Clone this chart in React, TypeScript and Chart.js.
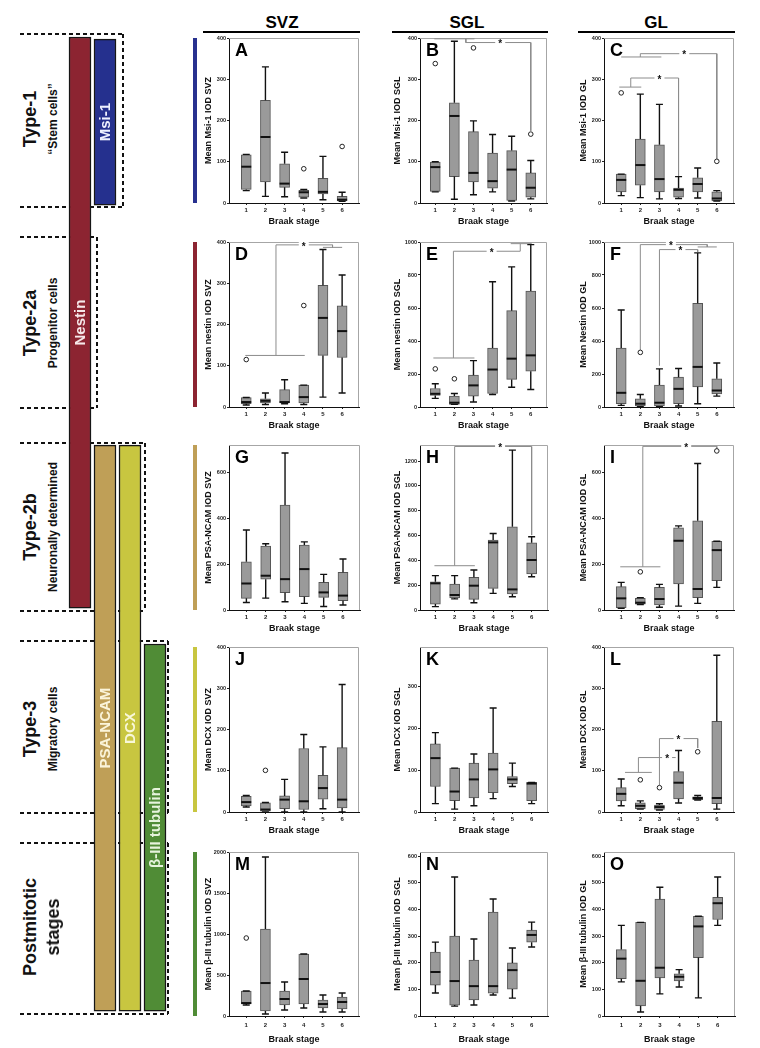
import React, { useEffect, useRef } from 'react';
import { Chart, registerables } from 'chart.js';

Chart.register(...registerables);

const FONT = '"Liberation Sans", Arial, Helvetica, sans-serif';

type Pt = [number, number];

const STAGES = [1, 2, 3, 4, 5, 6];
const X_TITLE = 'Braak stage';
const REGION_HEADERS = ['SVZ', 'SGL', 'GL'];

// ---- box statistics per Braak stage: [min, q1, median, q3, max] ----
const msi1SVZ = [[30, 33, 88, 117, 118], [16, 51, 160, 249, 330], [15, 38, 47, 95, 123], [12, 14, 26, 31, 33], [8, 22, 27, 60, 113], [4, 5, 8, 16, 26]];
const msi1SVZOut: Pt[] = [[4, 83], [6, 137]];

const msi1SGL = [[27, 28, 87, 99, 100], [9, 64, 211, 243, 392], [20, 51, 73, 173, 199], [27, 36, 53, 121, 166], [5, 6, 81, 127, 162], [10, 14, 37, 73, 103]];
const msi1SGLOut: Pt[] = [[1, 338], [3, 376], [6, 167]];
const msi1SGLBrackets: Pt[][] = [[[0.95, 398], [3.05, 398]], [[2.6, 398], [2.6, 389], [6, 389], [6, 175]]];
const msi1SGLStars: Pt[] = [[4.4, 389]];

const msi1GL = [[18, 27, 56, 70, 70], [13, 43, 92, 155, 264], [10, 27, 58, 141, 239], [11, 14, 32, 36, 64], [12, 27, 46, 61, 85], [5, 5, 11, 27, 30]];
const msi1GLOut: Pt[] = [[1, 267], [6, 101]];
const msi1GLBrackets: Pt[][] = [[[1, 354], [3.1, 354]], [[2, 354], [2, 362], [6, 362], [6, 107]], [[0.9, 281], [2.05, 281]], [[1.5, 281], [1.5, 303], [4, 303], [4, 66]]];
const msi1GLStars: Pt[] = [[4.3, 362], [3.0, 303]];

const nestinSVZ = [[5, 8, 12, 23, 23], [6, 10, 15, 20, 34], [8, 10, 12, 42, 66], [6, 10, 24, 53, 53], [24, 125, 216, 295, 382], [34, 120, 184, 245, 320]];
const nestinSVZOut: Pt[] = [[1, 115], [4, 246]];
const nestinSVZBrackets: Pt[][] = [[[0.95, 125], [4.05, 125]], [[2.55, 125], [2.55, 393], [5.5, 393], [5.5, 387]], [[5, 387], [6, 387]]];
const nestinSVZStars: Pt[] = [[4.0, 393]];

const nestinSGL = [[52, 70, 80, 112, 141], [16, 16, 26, 66, 82], [30, 66, 131, 193, 281], [76, 82, 227, 357, 759], [120, 167, 293, 584, 849], [106, 217, 313, 703, 984]];
const nestinSGLOut: Pt[] = [[1, 231], [2, 171]];
const nestinSGLBrackets: Pt[][] = [[[0.9, 297], [3.05, 297]], [[1.95, 297], [1.95, 944], [5.45, 944], [5.45, 990]], [[4.95, 990], [6.05, 990]]];
const nestinSGLStars: Pt[] = [[3.95, 944]];

const nestinGL = [[10, 20, 86, 357, 588], [2, 6, 20, 50, 76], [2, 6, 26, 133, 231], [6, 20, 110, 181, 233], [20, 122, 243, 629, 934], [66, 80, 100, 171, 267]];
const nestinGLOut: Pt[] = [[2, 331]];
const nestinGLBrackets: Pt[][] = [[[2, 345], [2, 984], [5.5, 984], [5.5, 970]], [[5, 970], [6, 970]], [[3, 250], [3, 954], [5, 954], [5, 940]]];
const nestinGLStars: Pt[] = [[3.6, 984], [4.1, 954]];

const psaSVZ = [[33, 51, 116, 211, 350], [52, 135, 150, 280, 290], [36, 76, 135, 459, 687], [29, 58, 179, 284, 298], [15, 55, 77, 121, 156], [22, 41, 63, 165, 223]];

const psaSGL = [[27, 48, 215, 228, 277], [90, 97, 121, 209, 277], [59, 86, 196, 263, 322], [134, 174, 545, 564, 617], [107, 129, 166, 671, 1289], [268, 290, 403, 542, 591]];
const psaSGLBrackets: Pt[][] = [[[0.95, 357], [3.05, 357]], [[2, 357], [2, 1318], [6, 1318], [6, 604]]];
const psaSGLStars: Pt[] = [[4.36, 1318]];

const psaGL = [[7, 10, 51, 102, 121], [24, 26, 32, 51, 54], [12, 22, 48, 99, 112], [17, 114, 303, 360, 368], [29, 54, 92, 390, 641], [99, 128, 262, 301, 301]];
const psaGLOut: Pt[] = [[2, 167], [6, 696]];
const psaGLBrackets: Pt[][] = [[[0.95, 189], [3.05, 189]], [[2.13, 189], [2.13, 716], [6, 716], [6, 706]]];
const psaGLStars: Pt[] = [[4.4, 716]];

const dcxSVZ = [[12, 15, 24, 38, 40], [0, 2, 6, 22, 23], [0, 8, 30, 39, 79], [0, 6, 26, 154, 188], [8, 31, 58, 89, 158], [0, 10, 30, 156, 309]];
const dcxSVZOut: Pt[] = [[2, 101]];

const dcxSGL = [[20, 61, 129, 163, 190], [7, 27, 49, 105, 105], [15, 34, 78, 117, 139], [32, 46, 102, 141, 249], [61, 68, 78, 85, 117], [20, 27, 68, 71, 71]];

const dcxGL = [[15, 27, 44, 59, 80], [7, 8, 15, 22, 27], [5, 6, 12, 17, 20], [22, 32, 71, 98, 149], [29, 30, 34, 37, 40], [7, 20, 34, 220, 380]];
const dcxGLOut: Pt[] = [[2, 78], [3, 59], [5, 146]];
const dcxGLBrackets: Pt[][] = [[[1.2, 96], [2.6, 96]], [[1.9, 96], [1.9, 132], [3.85, 132]], [[3, 65], [3, 178], [5, 178], [5, 155]]];
const dcxGLStars: Pt[] = [[3.4, 132], [4.0, 178]];

const b3SVZ = [[134, 146, 158, 305, 305], [24, 61, 402, 1061, 1939], [73, 134, 207, 305, 415], [98, 146, 451, 756, 756], [49, 98, 146, 195, 256], [49, 85, 171, 232, 280]];
const b3SVZOut: Pt[] = [[1, 951]];

const b3SGL = [[86, 116, 165, 240, 277], [37, 41, 131, 300, 521], [41, 60, 112, 210, 289], [79, 86, 112, 390, 439], [67, 101, 172, 199, 255], [259, 277, 304, 322, 352]];

const b3GL = [[128, 140, 215, 249, 340], [15, 38, 132, 351, 351], [83, 143, 181, 438, 483], [109, 132, 147, 158, 174], [68, 219, 336, 374, 374], [340, 362, 423, 445, 521]];

// ---- schematic of marker expression across cell types (stage band units) ----
const CELL_TYPES = ['Type-1', 'Type-2a', 'Type-2b', 'Type-3', 'Postmitotic'];
const CELL_SUBTITLES = ['\u201CStem cells\u201D', 'Progenitor cells', 'Neuronally determined', 'Migratory cells', 'stages'];
const MARKER_NAMES = ['Nestin', 'Msi-1', 'PSA-NCAM', 'DCX', '\u03B2-III tubulin'];
const MARKER_LANES = ['Nestin', 'Msi-1 / PSA-NCAM', 'DCX', '\u03B2-III tubulin'];
const MARKER_LANE_OF = ['Nestin', 'Msi-1 / PSA-NCAM', 'Msi-1 / PSA-NCAM', 'DCX', '\u03B2-III tubulin'];
const MARKER_FROM = [0.015, 0.025, 2.035, 2.035, 3.02];
const MARKER_TO = [2.842, 0.847, 4.837, 4.837, 4.837];

// ---- styles / layout ----
const MARKER_COLORS = ['#8c2431', '#25308e', '#bf9f57', '#c8c640', '#508c36'];
const MARKER_TEXT = ['#f6e9ea', '#eef0ff', '#fbf4da', '#f8f7d8', '#e6f3dc'];
const ROW_COLORS = ['#28318f', '#8c2431', '#bf9f57', '#c8c640', '#508c36'];
const BOX_FILL = '#9a9a9a';
const BOX_EDGE = '#555555';
const BRACKET = '#8c8c8c';
const BOX_W = 10;
const CAP = 3.5;

const COL_AXIS = [229, 420, 604];
const COL_RIGHT = [360, 548, 735];
const X_MIN = [0.1, 0.2, 0.1];
const X_MAX = [6.88, 6.85, 6.9];
const ROW_TOP = [38, 242, 445, 647, 852];
const ROW_BOTTOM = [203, 407, 610, 812, 1016];
const X_AXIS_H = [24, 24, 24, 24, 29];
const X_TICK_PAD = [1.5, 1.5, 1.5, 1.5, 4];
const Y_AXIS_W = 28;
const PAD_TOP = 5;
const PAD_RIGHT = 4;
const Y_TITLE_PAD = [2.6, 0, 2.6];
const HEADER_X = [282, 467, 656];
const HEADER_LINES: Pt[] = [[203, 360], [392, 548], [578, 735]];
const STAGE_BOXES = [[34, 207, 123], [237, 408, 97], [443, 611, 145], [641, 813, 168], [843, 1014, 168]];
const STAGE_LABEL_Y = [119, 323, 527, 729, 927];

interface PanelDef {
  letter: string; row: number; col: number; yTitle: string; yMax: number; yStep: number;
  stats: number[][]; outliers: Pt[]; brackets: Pt[][]; stars: Pt[];
}

const PANELS: PanelDef[] = [
  { letter: 'A', row: 0, col: 0, yTitle: 'Mean Msi-1 IOD SVZ', yMax: 400, yStep: 100, stats: msi1SVZ, outliers: msi1SVZOut, brackets: [], stars: [] },
  { letter: 'B', row: 0, col: 1, yTitle: 'Mean Msi-1 IOD SGL', yMax: 400, yStep: 100, stats: msi1SGL, outliers: msi1SGLOut, brackets: msi1SGLBrackets, stars: msi1SGLStars },
  { letter: 'C', row: 0, col: 2, yTitle: 'Mean Msi-1 IOD GL', yMax: 400, yStep: 100, stats: msi1GL, outliers: msi1GLOut, brackets: msi1GLBrackets, stars: msi1GLStars },
  { letter: 'D', row: 1, col: 0, yTitle: 'Mean nestin IOD SVZ', yMax: 400, yStep: 100, stats: nestinSVZ, outliers: nestinSVZOut, brackets: nestinSVZBrackets, stars: nestinSVZStars },
  { letter: 'E', row: 1, col: 1, yTitle: 'Mean nestin IOD SGL', yMax: 1000, yStep: 200, stats: nestinSGL, outliers: nestinSGLOut, brackets: nestinSGLBrackets, stars: nestinSGLStars },
  { letter: 'F', row: 1, col: 2, yTitle: 'Mean Nestin IOD GL', yMax: 1000, yStep: 200, stats: nestinGL, outliers: nestinGLOut, brackets: nestinGLBrackets, stars: nestinGLStars },
  { letter: 'G', row: 2, col: 0, yTitle: 'Mean PSA-NCAM IOD SVZ', yMax: 722, yStep: 200, stats: psaSVZ, outliers: [], brackets: [], stars: [] },
  { letter: 'H', row: 2, col: 1, yTitle: 'Mean PSA-NCAM IOD SGL', yMax: 1330, yStep: 200, stats: psaSGL, outliers: [], brackets: psaSGLBrackets, stars: psaSGLStars },
  { letter: 'I', row: 2, col: 2, yTitle: 'Mean PSA-NCAM IOD GL', yMax: 722, yStep: 200, stats: psaGL, outliers: psaGLOut, brackets: psaGLBrackets, stars: psaGLStars },
  { letter: 'J', row: 3, col: 0, yTitle: 'Mean DCX IOD SVZ', yMax: 400, yStep: 100, stats: dcxSVZ, outliers: dcxSVZOut, brackets: [], stars: [] },
  { letter: 'K', row: 3, col: 1, yTitle: 'Mean DCX IOD SGL', yMax: 395, yStep: 100, stats: dcxSGL, outliers: [], brackets: [], stars: [] },
  { letter: 'L', row: 3, col: 2, yTitle: 'Mean DCX IOD GL', yMax: 400, yStep: 100, stats: dcxGL, outliers: dcxGLOut, brackets: dcxGLBrackets, stars: dcxGLStars },
  { letter: 'M', row: 4, col: 0, yTitle: 'Mean \u03B2-III tubulin IOD SVZ', yMax: 2000, yStep: 500, stats: b3SVZ, outliers: b3SVZOut, brackets: [], stars: [] },
  { letter: 'N', row: 4, col: 1, yTitle: 'Mean \u03B2-III tubulin IOD SGL', yMax: 615, yStep: 100, stats: b3SGL, outliers: [], brackets: [], stars: [] },
  { letter: 'O', row: 4, col: 2, yTitle: 'Mean \u03B2-III tubulin IOD GL', yMax: 615, yStep: 100, stats: b3GL, outliers: [], brackets: [], stars: [] },
];

function BoxPanel({ def }: { def: PanelDef }) {
  const ref = useRef<HTMLCanvasElement>(null);
  const left = COL_AXIS[def.col] - Y_AXIS_W;
  const top = ROW_TOP[def.row] - PAD_TOP;
  const width = Y_AXIS_W + COL_RIGHT[def.col] - COL_AXIS[def.col] + PAD_RIGHT;
  const xh = X_AXIS_H[def.row];
  const height = PAD_TOP + ROW_BOTTOM[def.row] - ROW_TOP[def.row] + xh;

  useEffect(() => {
    const canvas = ref.current;
    if (!canvas) return;
    const extras = {
      id: 'boxExtras',
      beforeDatasetsDraw(chart: any) {
        const { ctx, chartArea: a } = chart;
        ctx.save();
        ctx.strokeStyle = '#a6a6a6';
        ctx.lineWidth = 1;
        ctx.beginPath();
        ctx.moveTo(a.left, a.top + 0.5);
        ctx.lineTo(a.right - 0.5, a.top + 0.5);
        ctx.lineTo(a.right - 0.5, a.bottom);
        ctx.stroke();
        ctx.restore();
      },
      afterDatasetsDraw(chart: any) {
        const { ctx, chartArea: a, scales } = chart;
        const xs = scales.x;
        const ys = scales.y;
        ctx.save();
        ctx.strokeStyle = '#111';
        def.stats.forEach((s, i) => {
          const px = xs.getPixelForValue(STAGES[i]);
          const [mn, q1, md, q3, mx] = s;
          const yMx = ys.getPixelForValue(mx);
          const yQ3 = ys.getPixelForValue(q3);
          const yQ1 = ys.getPixelForValue(q1);
          const yMn = ys.getPixelForValue(mn);
          ctx.lineWidth = 1.4;
          ctx.beginPath();
          ctx.moveTo(px, yMx); ctx.lineTo(px, yQ3);
          ctx.moveTo(px, yQ1); ctx.lineTo(px, yMn);
          ctx.moveTo(px - CAP, yMx); ctx.lineTo(px + CAP, yMx);
          ctx.moveTo(px - CAP, yMn); ctx.lineTo(px + CAP, yMn);
          ctx.stroke();
          ctx.lineWidth = 2;
          ctx.beginPath();
          const my = ys.getPixelForValue(md);
          ctx.moveTo(px - BOX_W / 2, my); ctx.lineTo(px + BOX_W / 2, my);
          ctx.stroke();
        });
        ctx.font = `bold 10px ${FONT}`;
        ctx.textAlign = 'center';
        ctx.textBaseline = 'middle';
        def.stars.forEach(([sx, sy]) => {
          const px = xs.getPixelForValue(sx);
          const py = ys.getPixelForValue(sy);
          ctx.fillStyle = '#fff';
          ctx.fillRect(px - 5, py - 3, 10, 6);
          ctx.fillStyle = '#111';
          ctx.fillText('*', px, py + 2);
        });
        ctx.font = `bold 18px ${FONT}`;
        ctx.textAlign = 'left';
        ctx.textBaseline = 'top';
        ctx.fillStyle = '#000';
        ctx.fillText(def.letter, a.left + 6, a.top + 4);
        ctx.restore();
      },
    };

    const datasets: any[] = [
      {
        type: 'bar',
        data: STAGES.map((s, i) => ({ x: s, y: [def.stats[i][1], def.stats[i][3]] })),
        backgroundColor: BOX_FILL,
        borderColor: BOX_EDGE,
        borderWidth: 1,
        borderSkipped: false,
        barThickness: BOX_W,
        grouped: false,
        order: 3,
      },
      ...def.brackets.map((b) => ({
        type: 'scatter',
        showLine: true,
        data: b.map(([x, y]) => ({ x, y })),
        borderColor: BRACKET,
        backgroundColor: BRACKET,
        borderWidth: 1,
        pointRadius: 0,
        order: 2,
      })),
      {
        type: 'scatter',
        data: def.outliers.map(([x, y]) => ({ x, y })),
        pointRadius: 2.3,
        pointBackgroundColor: '#fff',
        pointBorderColor: '#222',
        pointBorderWidth: 1,
        order: 1,
      },
    ];

    const yTickValues: number[] = [];
    for (let v = 0; v <= def.yMax; v += def.yStep) yTickValues.push(v);

    const tickFont = { family: FONT, size: 5.5, weight: 'bold' as const };
    const chart = new Chart(canvas, {
      type: 'scatter',
      data: { datasets },
      options: {
        responsive: false,
        animation: false,
        devicePixelRatio: 1,
        events: [],
        layout: { padding: { top: PAD_TOP, right: PAD_RIGHT, left: 0, bottom: 0 } },
        plugins: { legend: { display: false }, tooltip: { enabled: false } },
        scales: {
          x: {
            type: 'linear',
            min: X_MIN[def.col],
            max: X_MAX[def.col],
            offset: false,
            afterBuildTicks: (s: any) => { s.ticks = STAGES.map((v) => ({ value: v })); },
            ticks: { font: { family: FONT, size: 6, weight: 'bold' }, color: '#222', padding: X_TICK_PAD[def.row], maxRotation: 0, autoSkip: false, callback: (v: any) => String(v) },
            grid: { display: true, drawOnChartArea: false, drawTicks: true, tickLength: 2, color: '#222', offset: false },
            border: { display: true, color: '#111', width: 1 },
            title: { display: true, text: X_TITLE, font: { family: FONT, size: 9, weight: 'bold' }, color: '#111', padding: { top: 0, bottom: 0 } },
            afterFit: (s: any) => { s.height = xh; },
          } as any,
          y: {
            type: 'linear',
            min: 0,
            max: def.yMax,
            afterBuildTicks: (s: any) => { s.ticks = yTickValues.map((v) => ({ value: v })); },
            ticks: { autoSkip: false, font: tickFont, color: '#222', padding: 1, callback: (v: any) => String(v) },
            grid: { display: true, drawOnChartArea: false, drawTicks: true, tickLength: 2, color: '#222' },
            border: { display: true, color: '#111', width: 1 },
            title: { display: true, text: def.yTitle, font: { family: FONT, size: 9, weight: 'bold' }, color: '#111', padding: { top: Y_TITLE_PAD[def.col], bottom: 0 } },
            afterFit: (s: any) => { s.width = Y_AXIS_W; },
          } as any,
        },
      },
      plugins: [extras],
    });
    return () => chart.destroy();
  }, [def]);

  return (
    <canvas
      ref={ref}
      width={width}
      height={height}
      style={{ position: 'absolute', left, top, width, height }}
    />
  );
}

function MarkerDiagram() {
  const ref = useRef<HTMLCanvasElement>(null);
  useEffect(() => {
    const canvas = ref.current;
    if (!canvas) return;
    const labels = {
      id: 'markerLabels',
      afterDatasetsDraw(chart: any) {
        const { ctx } = chart;
        const meta = chart.getDatasetMeta(0);
        meta.data.forEach((el: any, i: number) => {
          const cy = (el.y + el.base) / 2;
          ctx.save();
          ctx.translate(el.x, cy);
          ctx.rotate(-Math.PI / 2);
          ctx.font = `bold 15px ${FONT}`;
          ctx.fillStyle = MARKER_TEXT[i];
          ctx.textAlign = 'center';
          ctx.textBaseline = 'middle';
          ctx.fillText(MARKER_NAMES[i], 0, 1);
          ctx.restore();
        });
      },
    };
    const chart = new Chart(canvas, {
      type: 'bar',
      data: {
        labels: MARKER_LANES,
        datasets: [{
          data: MARKER_NAMES.map((_, i) => ({ x: MARKER_LANE_OF[i], y: [MARKER_FROM[i], MARKER_TO[i]] })) as any,
          backgroundColor: MARKER_COLORS,
          borderColor: '#161616',
          borderWidth: 1.5,
          borderSkipped: false,
          barThickness: 22,
          grouped: false,
        } as any],
      },
      options: {
        responsive: false,
        animation: false,
        devicePixelRatio: 1,
        events: [],
        layout: { padding: { top: 34, bottom: 4, left: 7.5, right: 7.5 } },
        plugins: { legend: { display: false }, tooltip: { enabled: false } },
        scales: {
          x: { type: 'category', display: false, offset: true } as any,
          y: { type: 'linear', min: 0, max: CELL_TYPES.length, reverse: true, display: false } as any,
        },
      },
      plugins: [labels],
    });
    return () => chart.destroy();
  }, []);
  return <canvas ref={ref} width={115} height={1048} style={{ position: 'absolute', left: 60, top: 0, width: 115, height: 1048 }} />;
}

function HDash({ x1, x2, y }: { x1: number; x2: number; y: number }) {
  return <div style={{ position: 'absolute', left: x1, top: y - 1, width: x2 - x1, height: 2, backgroundImage: 'repeating-linear-gradient(90deg,#111 0 4px,transparent 4px 7px)' }} />;
}
function VDash({ x, y1, y2 }: { x: number; y1: number; y2: number }) {
  return <div style={{ position: 'absolute', left: x - 1, top: y1, width: 2, height: y2 - y1, backgroundImage: 'repeating-linear-gradient(180deg,#111 0 4px,transparent 4px 7px)' }} />;
}
function VText({ x, y, size, text, color = '#111' }: { x: number; y: number; size: number; text: string; color?: string }) {
  return (
    <div style={{ position: 'absolute', left: x, top: y, transform: 'translate(-50%,-50%) rotate(-90deg)', whiteSpace: 'nowrap', fontFamily: FONT, fontSize: size, fontWeight: 'bold', color, lineHeight: 1 }}>{text}</div>
  );
}

export default function App() {
  return (
    <div style={{ position: 'absolute', left: 0, top: 0, width: 760, height: 1048, overflow: 'hidden', background: '#fff', fontFamily: FONT }}>
      {STAGE_BOXES.map(([t, b, r], i) => (
        <React.Fragment key={'box' + i}>
          <HDash x1={20} x2={r} y={t} />
          <HDash x1={20} x2={r} y={b} />
          <VDash x={r} y1={t} y2={b} />
        </React.Fragment>
      ))}
      <MarkerDiagram />
      {CELL_TYPES.map((t, i) => (
        <React.Fragment key={'lab' + i}>
          <VText x={30} y={STAGE_LABEL_Y[i]} size={18} text={t} />
          <VText x={53} y={STAGE_LABEL_Y[i]} size={i === 4 ? 18 : 12} text={CELL_SUBTITLES[i]} />
        </React.Fragment>
      ))}
      {REGION_HEADERS.map((h, i) => (
        <React.Fragment key={'hdr' + i}>
          <div style={{ position: 'absolute', left: HEADER_X[i] - 40, width: 80, top: 13, textAlign: 'center', fontFamily: FONT, fontWeight: 'bold', fontSize: 17, lineHeight: '20px', color: '#000' }}>{h}</div>
          <div style={{ position: 'absolute', left: HEADER_LINES[i][0], width: HEADER_LINES[i][1] - HEADER_LINES[i][0], top: 31, height: 2, background: '#000' }} />
        </React.Fragment>
      ))}
      {ROW_COLORS.map((c, r) => (
        <div key={'side' + r} style={{ position: 'absolute', left: 193, width: 4, top: ROW_TOP[r], height: ROW_BOTTOM[r] - ROW_TOP[r], background: c }} />
      ))}
      {PANELS.map((p) => <BoxPanel key={p.letter} def={p} />)}
    </div>
  );
}
